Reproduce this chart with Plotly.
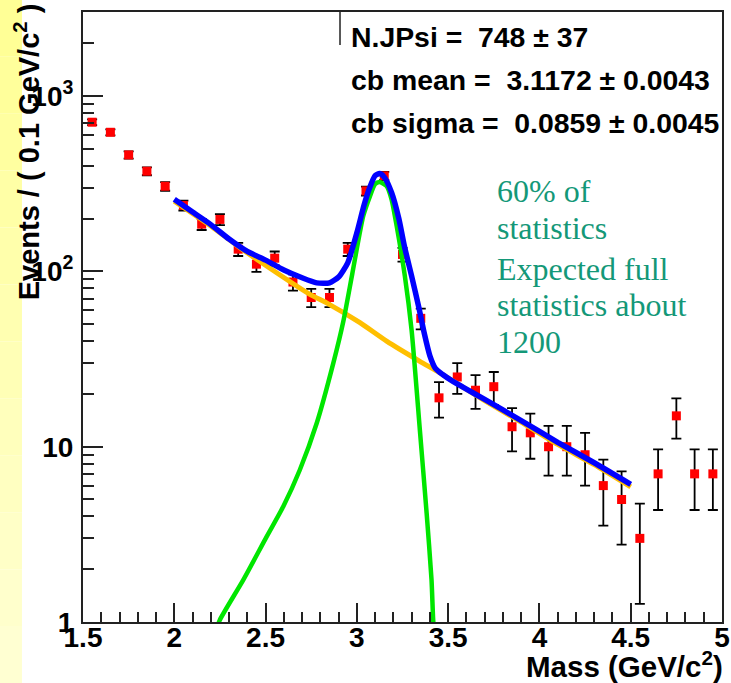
import plotly.graph_objects as go

# ---------------- data ----------------
bin_centers = [1.55, 1.65, 1.75, 1.85, 1.95, 2.05, 2.15, 2.25, 2.35, 2.45,
               2.55, 2.65, 2.75, 2.85, 2.95, 3.05, 3.15, 3.25, 3.35, 3.45,
               3.55, 3.65, 3.75, 3.85, 3.95, 4.05, 4.15, 4.25, 4.35, 4.45,
               4.55, 4.65, 4.75, 4.85, 4.95]
counts = [710, 622, 462, 373, 306, 238, 186, 198, 134, 110,
          119, 87, 71, 71, 134, 288, 351, 125, 54, 19,
          25, 21, 22, 13, 12, 10, 10, 9, 6, 5,
          3, 7, 15, 7, 7]
count_errors = [c ** 0.5 for c in counts]

# background (exponential) curve
bkg_x = [2.0, 2.2, 2.35, 2.469, 2.743, 2.834, 3.017, 3.163, 3.345, 3.455,
         3.7, 3.9, 4.1, 4.3, 4.5]
bkg_y = [252, 182, 139, 114, 74, 66.2, 51, 40, 30.7, 26.4,
         18.3, 13.8, 10.3, 7.9, 5.9]

# signal (Crystal Ball) curve
sig_x = [2.23, 2.25, 2.378, 2.506, 2.597, 2.688, 2.78, 2.871, 2.926, 2.975,
         3.035, 3.072, 3.099, 3.123, 3.163, 3.19, 3.218, 3.263, 3.30, 3.345,
         3.382, 3.409, 3.418, 3.425]
sig_y = [0.9, 1.03, 1.74, 3.07, 4.56, 7.39, 13.6, 30, 52, 97,
         207, 269, 314, 324, 307, 258, 182, 94, 46, 12.5,
         4.2, 1.74, 1.03, 0.85]

# total fit curve
tot_x = [2.0, 2.1, 2.2, 2.3, 2.4, 2.5, 2.6, 2.7, 2.78, 2.85, 2.9, 2.95,
         3.0, 3.04, 3.07, 3.1, 3.125, 3.15, 3.19, 3.23, 3.26, 3.3, 3.34,
         3.37, 3.4, 3.43, 3.47, 3.52, 3.6, 3.7, 3.9, 4.1, 4.3, 4.5]
tot_y = [258, 218, 185, 153, 130, 116, 102, 92, 86, 86, 93, 112,
         166, 240, 300, 352, 362, 345, 282, 200, 140, 94, 62,
         44, 33, 28, 25.8, 23.8, 21.3, 18.6, 14.1, 10.6, 8.1, 6.1]

y_tickvals = [1, 10, 100, 1000]
y_ticktext = ["1", "10", "10<sup>2</sup>", "10<sup>3</sup>"]
y_minor = [2, 3, 4, 5, 6, 7, 8, 9, 20, 30, 40, 50, 60, 70, 80, 90,
           200, 300, 400, 500, 600, 700, 800, 900, 2000, 3000]

stats_lines = ["N.JPsi =  748 ± 37",
               "cb mean =  3.1172 ± 0.0043",
               "cb sigma =  0.0859 ± 0.0045"]
note_lines = ["60% of", "statistics", "Expected full", "statistics about", "1200"]

# ---------------- figure ----------------
fig = go.Figure()

fig.add_trace(go.Scatter(
    x=bin_centers, y=counts, mode="markers",
    marker=dict(symbol="square", size=9, color="#ff0000"),
    error_y=dict(type="data", array=count_errors, visible=True,
                 color="black", thickness=1.8, width=5),
    hoverinfo="skip"))

fig.add_trace(go.Scatter(x=bkg_x, y=bkg_y, mode="lines",
                         line=dict(color="#ffbf00", width=5, shape="spline", smoothing=0.5)))
fig.add_trace(go.Scatter(x=sig_x, y=sig_y, mode="lines",
                         line=dict(color="#00e600", width=4.5, shape="spline", smoothing=0.6)))
fig.add_trace(go.Scatter(x=tot_x, y=tot_y, mode="lines",
                         line=dict(color="#0000ff", width=5.5, shape="spline", smoothing=0.6)))

tickfont = dict(family="Liberation Sans", size=28, color="black", weight="bold")

fig.update_xaxes(
    range=[1.5, 5], dtick=0.5, tick0=1.5, automargin=False,
    ticks="inside", ticklen=19, tickwidth=1.5, tickcolor="#222",
    minor=dict(dtick=0.1, ticks="inside", ticklen=10, tickwidth=1.5, tickcolor="#222"),
    showline=True, linecolor="#222", linewidth=2, mirror=True,
    showgrid=False, zeroline=False, tickfont=tickfont, ticklabelstandoff=-11,
    ticklabeloverflow="allow")

fig.update_yaxes(
    type="log", range=[0, 3.48], automargin=False,
    tickmode="array", tickvals=y_tickvals, ticktext=y_ticktext,
    ticks="inside", ticklen=20, tickwidth=1.5, tickcolor="#222",
    minor=dict(tickmode="array", tickvals=y_minor, ticks="inside",
               ticklen=11, tickwidth=1.5, tickcolor="#222"),
    showline=True, linecolor="#222", linewidth=2, mirror=True,
    showgrid=False, zeroline=False, tickfont=tickfont, ticklabelstandoff=2,
    ticklabeloverflow="allow")

annotations = []
# axis titles
annotations.append(dict(
    text="Mass (GeV/c<sup>2</sup>)", xref="paper", yref="paper",
    x=1.0047, y=0, xanchor="right", yanchor="top", yshift=-22,
    showarrow=False, font=dict(family="Liberation Sans", size=29.5, color="black", weight="bold")))
annotations.append(dict(
    text="Events / ( 0.1 GeV/c<sup>2</sup> )", xref="paper", yref="paper",
    x=-0.088, y=1.018, xanchor="center", yanchor="top", textangle=-90,
    showarrow=False, font=dict(family="Liberation Sans", size=29, color="black", weight="bold")))
# stats box text
stats_y = [0.959, 0.8885, 0.818]
for txt, yy in zip(stats_lines, stats_y):
    annotations.append(dict(
        text=txt, xref="paper", yref="paper", x=0.4165, y=yy,
        xanchor="left", yanchor="middle", showarrow=False,
        font=dict(family="Liberation Sans", size=28.4, color="black", weight="bold")))
# note text
note_y = [0.7066, 0.6459, 0.5787, 0.5197, 0.459]
for txt, yy in zip(note_lines, note_y):
    annotations.append(dict(
        text=txt, xref="paper", yref="paper", x=0.644, y=yy,
        xanchor="left", yanchor="middle", showarrow=False,
        font=dict(family="Liberation Serif", size=32, color="#149878")))

shapes = []
# yellow strip at the left edge of the slide (banded gradient)
n_bands = 12
for i in range(n_bands):
    t = i / (n_bands - 1)
    g = int(150 + 60 * t)
    y_top = 1.02 - i * (1.12 / n_bands)
    y_bot = y_top - 1.12 / n_bands
    shapes.append(dict(type="rect", xref="paper", yref="paper",
                       x0=-0.13, x1=-0.0955, y0=y_bot, y1=y_top,
                       fillcolor=f"rgb(255,255,{g})", line=dict(width=0), layer="below"))
# stats box left border stub
shapes.append(dict(type="line", xref="paper", yref="paper",
                   x0=0.4022, x1=0.4022, y0=0.946, y1=1.0,
                   line=dict(color="#222", width=1.5)))

fig.update_layout(
    width=731, height=683,
    margin=dict(l=83, r=9, t=12, b=61, autoexpand=False),
    paper_bgcolor="white", plot_bgcolor="white",
    showlegend=False,
    annotations=annotations, shapes=shapes)

fig.write_html("out.html",
               config={"displayModeBar": False},
               post_script="document.body.style.margin='0';document.body.style.overflow='hidden';")
